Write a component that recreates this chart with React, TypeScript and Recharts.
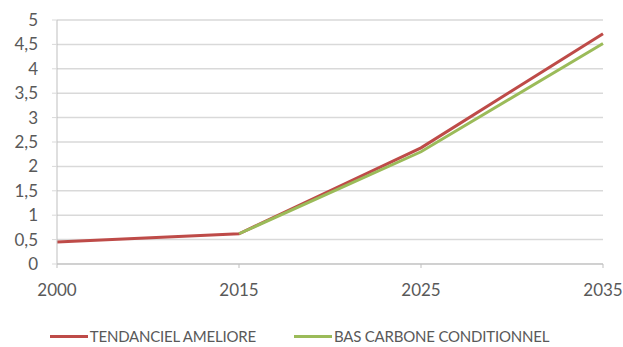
import { LineChart, Line, XAxis, YAxis, CartesianGrid, Legend } from "recharts";

const years = ["2000", "2015", "2025", "2035"];
const tendanciel = [0.45, 0.62, 2.38, 4.72];
const basCarbone = [null, 0.62, 2.3, 4.52];
const yTicks = [0, 0.5, 1, 1.5, 2, 2.5, 3, 3.5, 4, 4.5, 5];

const data = years.map((year, i) => ({
  year,
  tendanciel: tendanciel[i],
  basCarbone: basCarbone[i],
}));

const RED = "#BE4B48";
const GREEN = "#9BBB59";
const TEXT = "#595959";
const FONT = "Lato, 'Open Sans', sans-serif";

const legendItems = [
  { label: "TENDANCIEL AMELIORE", color: RED },
  { label: "BAS CARBONE CONDITIONNEL", color: GREEN },
];

const ChartLegend = () => (
  <div
    style={{
      display: "flex",
      justifyContent: "center",
      gap: 38,
      height: 20,
      lineHeight: "20px",
      fontFamily: FONT,
      fontSize: 15,
      letterSpacing: -0.2,
      color: TEXT,
      paddingRight: 4,
    }}
  >
    {legendItems.map((it) => (
      <div key={it.label} style={{ display: "flex", alignItems: "center" }}>
        <span style={{ display: "inline-block", width: 38, height: 3, background: it.color, marginRight: 2 }} />
        <span>{it.label}</span>
      </div>
    ))}
  </div>
);

export default function App() {
  return (
    <div style={{ position: "absolute", left: 0, top: 0, width: 623, height: 347, background: "#fff" }}>
      <LineChart width={623} height={347} data={data} margin={{ top: 20, right: 20, left: 0, bottom: 1 }}>
        <CartesianGrid vertical={false} stroke="#D9D9D9" strokeWidth={1.5} />
        <XAxis
          dataKey="year"
          stroke="#BFBFBF"
          tickLine={{ stroke: "#BFBFBF" }}
          tickSize={4}
          tick={{ fill: TEXT, fontSize: 17, fontFamily: FONT }}
          tickMargin={16}
          height={62}
          interval={0}
        />
        <YAxis
          domain={[0, 5]}
          ticks={yTicks}
          interval={0}
          width={57}
          stroke="#BFBFBF"
          tickLine={{ stroke: "#D9D9D9" }}
          tickSize={5}
          tickMargin={14}
          tick={{ fill: TEXT, fontSize: 17, fontFamily: FONT }}
          tickFormatter={(v: number) => String(v).replace(".", ",")}
        />
        <Legend verticalAlign="bottom" height={20} content={() => <ChartLegend />} />
        <Line type="linear" dataKey="tendanciel" stroke={RED} strokeWidth={3} dot={false} isAnimationActive={false} />
        <Line type="linear" dataKey="basCarbone" stroke={GREEN} strokeWidth={3} dot={false} isAnimationActive={false} />
      </LineChart>
    </div>
  );
}
